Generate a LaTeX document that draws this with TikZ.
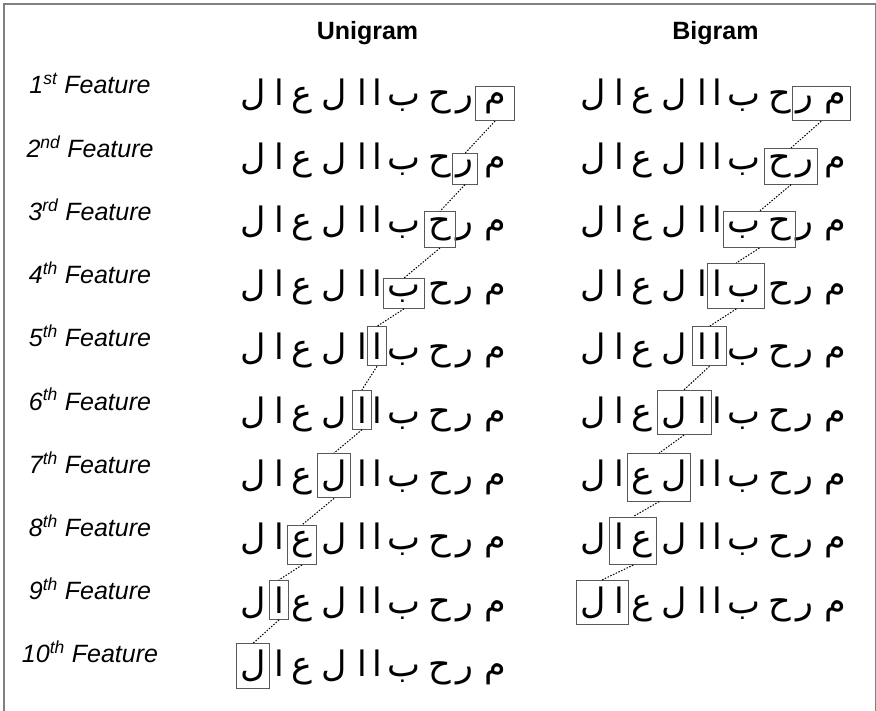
\documentclass[tikz,border=0pt]{standalone}
\usepackage{fontspec}
\setmainfont{Liberation Sans}
\newfontfamily\arabicfont[Script=Arabic]{DejaVu Sans}
\TeXXeTstate=1
\usetikzlibrary{fit}

\begin{document}
\begin{tikzpicture}[
  x=1pt, y=-1pt,
  frame/.style={draw=black!50, line width=1.5pt},
  header/.style={font=\fontsize{25}{30}\selectfont\bfseries, anchor=base},
  feat/.style={font=\fontsize{25}{30}\selectfont\itshape, anchor=base},
  letter/.style={
    font=\fontsize{35}{40}\selectfont\arabicfont,
    inner sep=0pt, anchor=base
  },
  hl/.style={draw=black!65, line width=1pt, inner xsep=4pt, inner ysep=6pt},
  link/.style={dash pattern=on 1.5pt off 1.5pt, line width=1pt}
]
\useasboundingbox (0,0) rectangle (876,711);

% --- Frame ---
\draw[frame] (4,4) rectangle (876,730);

% --- Column headers ---
\node[header] (uni) at (367.5,40) {Unigram};
\node[header] (bi) at (715.5,40) {Bigram};

% --- Feature labels ---
\foreach \k/\sfx in {1/st,2/nd,3/rd,4/th,5/th,6/th,7/th,8/th,9/th,10/th}
  \node[feat] (feat-\k) at (90,{94+(\k-1)*63.2}) {\k\textsuperscript{\sfx} Feature};

% --- Letters: unigram rows (1..10), bigram rows (1..9) ---
\foreach \k in {1,...,10} {
  \pgfmathsetmacro\yy{106+(\k-1)*63.4}
  \foreach \i/\ch/\xx in {1/ل/253, 2/ا/279, 3/ع/302, 4/ل/334, 5/ا/362,
                          6/ا/377, 7/ب/404, 8/ح/440, 9/ر/465, 10/م/495} {
    \node[letter] (u-\k-\i) at (\xx,\yy) {\beginR\ch\endR};
    \ifnum\k<10
      \node[letter] (b-\k-\i) at ({\xx+340},\yy) {\beginR\ch\endR};
    \fi
  }
}

% --- Boxes ---
\node[hl, inner xsep=8pt, fit=(u-1-10)] (ubox-1) {};
\foreach \k in {2,...,10} {
  \pgfmathtruncatemacro\i{11-\k}
  \node[hl, fit=(u-\k-\i)] (ubox-\k) {};
}
\foreach \k in {1,...,9} {
  \pgfmathtruncatemacro\i{11-\k}
  \pgfmathtruncatemacro\j{10-\k}
  \node[hl, fit=(b-\k-\j)(b-\k-\i)] (bbox-\k) {};
}

% --- Dotted links between boxes ---
\foreach \k in {1,...,9} {
  \pgfmathtruncatemacro\n{\k+1}
  \draw[link] (ubox-\k.south) -- (ubox-\n.north);
}
\foreach \k in {1,...,8} {
  \pgfmathtruncatemacro\n{\k+1}
  \draw[link] (bbox-\k.south) -- (bbox-\n.north);
}

\end{tikzpicture}
\end{document}
